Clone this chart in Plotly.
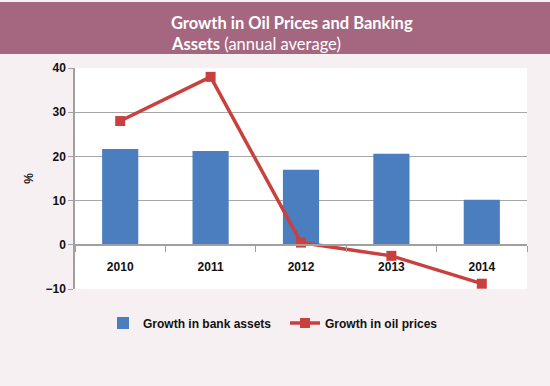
import plotly.graph_objects as go

years = ["2010", "2011", "2012", "2013", "2014"]
bank_assets = [21.7, 21.2, 17.0, 20.6, 10.2]
oil_prices = [28.0, 38.0, 0.5, -2.5, -8.8]
y_ticks = [-10, 0, 10, 20, 30, 40]

W, H = 550, 386
ml, mr, mt, mb = 75, 23, 68, 97
ymin, ymax = -10, 40
zero_frac = (0 - ymin) / (ymax - ymin)
pw, ph = W - ml - mr, H - mt - mb

fig = go.Figure()
fig.add_trace(go.Bar(
    x=years, y=bank_assets, name="Growth in bank assets",
    marker=dict(color="#4a7ebf", line=dict(width=0)), width=0.4,
))
fig.add_trace(go.Scatter(
    x=years, y=oil_prices, name="Growth in oil prices", mode="lines+markers",
    line=dict(color="#c8413f", width=3.5),
    marker=dict(symbol="square", size=10, color="#c8413f"),
))

fig.update_layout(
    width=W, height=H,
    margin=dict(l=ml, r=mr, t=mt, b=mb, autoexpand=False),
    paper_bgcolor="#f7f0f2",
    plot_bgcolor="#ffffff",
    font=dict(family="Open Sans, Liberation Sans, sans-serif", color="#222222"),
    showlegend=True,
    legend=dict(orientation="h", x=(103 - ml) / pw, y=-(323 - (mt + ph)) / ph,
                xanchor="left", yanchor="middle",
                font=dict(size=12, family="Liberation Sans", color="#111111", weight="bold"),
                bgcolor="rgba(0,0,0,0)", itemwidth=30, entrywidth=137, entrywidthmode="pixels"),
    xaxis=dict(
        type="category", anchor="free", position=zero_frac,
        showline=True, linecolor="#a0a0a0", linewidth=1.5,
        ticks="outside", tickson="boundaries", ticklen=6, tickcolor="#a0a0a0",
        showgrid=False, ticklabelstandoff=11,
        tickfont=dict(size=12, family="Liberation Sans", color="#111111", weight="bold"),
    ),
    yaxis=dict(
        range=[ymin, ymax], tickvals=y_ticks,
        showline=True, linecolor="#a0a0a0", linewidth=1.5,
        ticks="outside", ticklen=5, tickcolor="#a0a0a0",
        showgrid=True, gridcolor="#a8a8a8", gridwidth=1,
        zeroline=False,
        tickfont=dict(size=12, family="Liberation Sans", color="#111111", weight="bold"),
        title=dict(text="%", font=dict(size=12, family="Liberation Sans", weight="bold"), standoff=9),
    ),
    bargap=0.6,
)

# title band
fig.add_shape(type="rect", xref="paper", yref="paper",
              x0=-ml / pw, x1=1 + mr / pw,
              y0=1 + (mt - 54) / ph, y1=1 + (mt - 2) / ph,
              fillcolor="#a5677f", line=dict(width=0), layer="below")

title_lines = ["<b>Growth in Oil Prices and Banking</b>", "<b>Assets</b> (annual average)"]
for line, yc in zip(title_lines, [23, 44]):
    fig.add_annotation(
        xref="paper", yref="paper", x=(170 - ml) / pw, y=1 + (mt - yc) / ph,
        xanchor="left", yanchor="middle", align="left", showarrow=False,
        text=line, borderpad=0,
        font=dict(size=16.5, color="#ffffff", family="Lato, Open Sans, sans-serif"),
    )

fig.write_html("out.html", config={"displayModeBar": False},
               post_script="document.body.style.margin='0';")
